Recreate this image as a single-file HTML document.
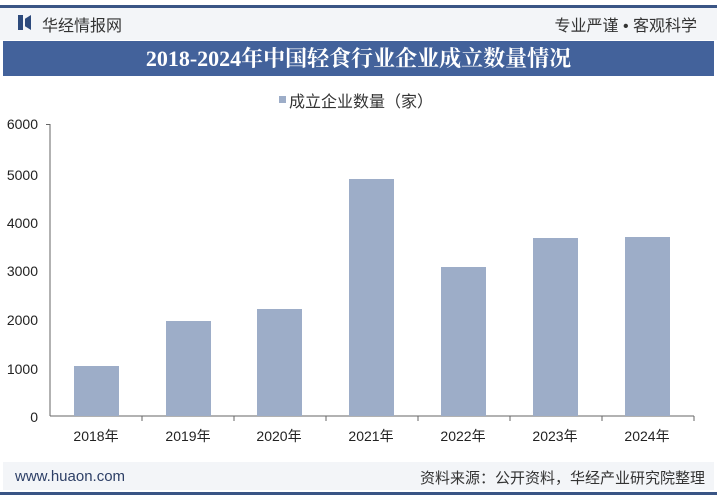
<!DOCTYPE html>
<html><head><meta charset="utf-8"><style>
body{margin:0;width:717px;height:500px;background:#fff;overflow:hidden;font-family:"Liberation Sans","Noto Sans CJK SC",sans-serif;position:relative}
.a{position:absolute}
</style></head><body>
<div class="a" style="left:0;top:5px;width:717px;height:3px;background:#3a5585"></div>
<div class="a" style="left:0;top:8px;width:717px;height:32px;background:#f3f5f8"></div>
<div class="a" style="left:18px;top:15px;width:5px;height:15px;background:#2d4a7c"></div>
<div class="a" style="left:25px;top:15px;width:0;height:0;border-top:7px solid transparent;border-bottom:8px solid transparent;border-left:0;"></div>
<div class="a" style="left:25px;top:15px;width:6px;height:15px;background:#2d4a7c;clip-path:polygon(0 25%,100% 0,100% 100%,0 75%)"></div>
<div class="a" style="left:42px;top:12px;font-size:16px;color:#333">华经情报网</div>
<div class="a" style="right:20px;top:12px;font-size:16px;color:#333">专业严谨 • 客观科学</div>
<div class="a" style="left:3px;top:41px;width:711px;height:35px;background:#43629b"></div>
<div class="a" style="left:0;top:41px;width:717px;text-align:center;line-height:35px;font-size:22px;font-weight:bold;color:#fff;font-family:'Liberation Serif','Noto Serif CJK SC',serif">2018-2024年中国轻食行业企业成立数量情况</div>
<div class="a" style="left:279px;top:96px;width:7px;height:7px;background:#9dadc8"></div>
<div class="a" style="left:289px;top:88px;font-size:16px;color:#333">成立企业数量（家）</div>
<svg class="a" style="left:0;top:0" width="717" height="500">
<g font-size="14" fill="#222" text-anchor="end" font-family="Liberation Sans,sans-serif">
<text x="38" y="129">6000</text><text x="38" y="180">5000</text><text x="38" y="228">4000</text><text x="38" y="276">3000</text><text x="38" y="325">2000</text><text x="38" y="374">1000</text><text x="38" y="422">0</text>
</g>
<g stroke="#666" stroke-width="1">
<line x1="50" y1="124" x2="50" y2="416"/>
<line x1="50" y1="416" x2="694" y2="416"/>
<line x1="46" y1="124.5" x2="50" y2="124.5"/>
<line x1="142" y1="416" x2="142" y2="421"/><line x1="234" y1="416" x2="234" y2="421"/><line x1="326" y1="416" x2="326" y2="421"/><line x1="418" y1="416" x2="418" y2="421"/><line x1="510" y1="416" x2="510" y2="421"/><line x1="602" y1="416" x2="602" y2="421"/><line x1="694" y1="416" x2="694" y2="421"/>
</g>
<g fill="#9dadc8">
<rect x="74" y="366" width="45" height="50"/>
<rect x="166" y="321" width="45" height="95"/>
<rect x="257" y="309" width="45" height="107"/>
<rect x="349" y="179" width="45" height="237"/>
<rect x="441" y="267" width="45" height="149"/>
<rect x="533" y="238" width="45" height="178"/>
<rect x="625" y="237" width="45" height="179"/>
</g>
<g font-size="14" fill="#222" text-anchor="middle" font-family="Liberation Sans,Noto Sans CJK SC,sans-serif">
<text x="96" y="441">2018年</text><text x="188" y="441">2019年</text><text x="279" y="441">2020年</text><text x="371" y="441">2021年</text><text x="463" y="441">2022年</text><text x="555" y="441">2023年</text><text x="647" y="441">2024年</text>
</g>
</svg>
<div class="a" style="left:3px;top:462px;width:711px;height:28px;background:#f3f5f8"></div>
<div class="a" style="left:15px;top:468px;font-size:15px;color:#2d3f66">www.huaon.com</div>
<div class="a" style="right:12px;top:467px;font-size:15px;color:#333">资料来源：公开资料，华经产业研究院整理</div>
<div class="a" style="left:0;top:492px;width:717px;height:3px;background:#3a5585"></div>
</body></html>
